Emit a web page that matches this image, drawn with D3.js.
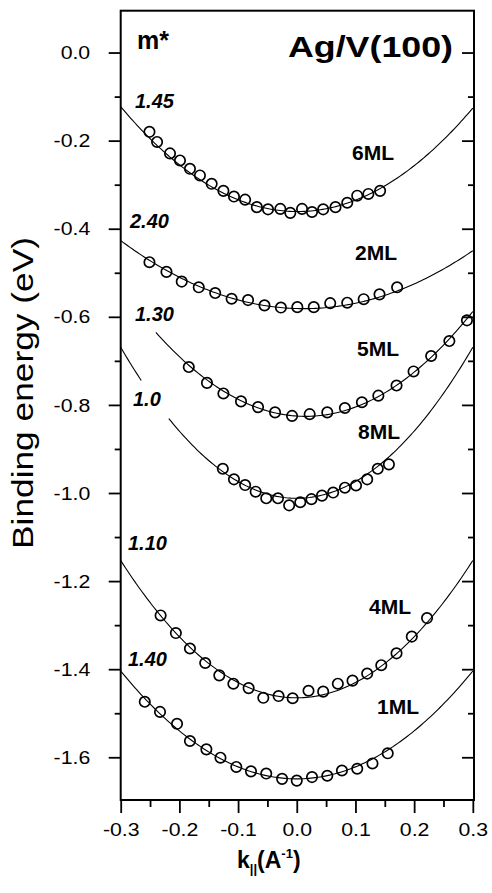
<!DOCTYPE html>
<html>
<head>
<meta charset="utf-8">
<script src="https://cdnjs.cloudflare.com/ajax/libs/d3/7.8.5/d3.min.js"></script>
<style>
  body { margin: 0; background: #fff; }
  svg text { font-family: "Liberation Sans", Arial, Helvetica, sans-serif; fill: #000; }
</style>
</head>
<body>
<svg id="chart"></svg>
<script>
// --- data ---
const layers = ["6ML", "2ML", "5ML", "8ML", "4ML", "1ML"];
const mStarText = ["1.45", "2.40", "1.30", "1.0", "1.10", "1.40"];
const mStar = [1.45, 2.40, 1.30, 1.0, 1.10, 1.40];
const bandBottom = [-0.361, -0.5815, -0.826, -1.012, -1.465, -1.649];
const bandCentre = [0.001, 0.012, 0.015, 0, 0, 0];
// k ranges where the fitted parabola is drawn (8ML is broken by its label)
const fitRanges = [
  [[-0.3, 0.3]],
  [[-0.3, 0.3]],
  [[-0.24, 0.3]],
  [[-0.3, -0.265], [-0.218, 0.3]],
  [[-0.3, 0.3]],
  [[-0.3, 0.3]]
];

const k6 = [-0.251, -0.238, -0.216, -0.199, -0.182, -0.165, -0.145, -0.125, -0.107, -0.088, -0.068, -0.049, -0.028, -0.011, 0.009, 0.026, 0.045, 0.066, 0.086, 0.103, 0.122, 0.142];
const e6 = [-0.180, -0.203, -0.229, -0.245, -0.264, -0.279, -0.298, -0.314, -0.327, -0.334, -0.351, -0.356, -0.355, -0.364, -0.355, -0.362, -0.356, -0.351, -0.341, -0.325, -0.321, -0.314];

const k2 = [-0.251, -0.222, -0.196, -0.167, -0.139, -0.111, -0.083, -0.055, -0.027, 0.001, 0.029, 0.057, 0.086, 0.114, 0.141, 0.171];
const e2 = [-0.476, -0.498, -0.520, -0.533, -0.546, -0.559, -0.562, -0.574, -0.579, -0.578, -0.578, -0.569, -0.568, -0.560, -0.549, -0.533];

const k5 = [-0.184, -0.153, -0.125, -0.095, -0.066, -0.037, -0.008, 0.022, 0.052, 0.082, 0.111, 0.139, 0.170, 0.199, 0.229, 0.260, 0.290];
const e5 = [-0.714, -0.750, -0.774, -0.792, -0.805, -0.817, -0.825, -0.821, -0.817, -0.807, -0.794, -0.779, -0.756, -0.724, -0.689, -0.655, -0.608];

const k8 = [-0.126, -0.107, -0.088, -0.070, -0.052, -0.032, -0.013, 0.006, 0.025, 0.043, 0.062, 0.082, 0.101, 0.120, 0.138, 0.157];
const e8 = [-0.945, -0.969, -0.982, -0.997, -1.012, -1.012, -1.028, -1.021, -1.014, -1.006, -0.999, -0.988, -0.983, -0.969, -0.945, -0.935];

const k4 = [-0.232, -0.206, -0.182, -0.156, -0.132, -0.108, -0.082, -0.057, -0.031, -0.007, 0.020, 0.045, 0.070, 0.095, 0.120, 0.144, 0.170, 0.196, 0.222];
const e4 = [-1.278, -1.318, -1.353, -1.386, -1.414, -1.433, -1.443, -1.465, -1.461, -1.466, -1.449, -1.451, -1.433, -1.426, -1.410, -1.391, -1.364, -1.326, -1.284];

const k1 = [-0.259, -0.233, -0.204, -0.182, -0.154, -0.130, -0.103, -0.078, -0.052, -0.025, 0.000, 0.026, 0.052, 0.077, 0.103, 0.129, 0.155];
const e1 = [-1.474, -1.497, -1.524, -1.563, -1.582, -1.601, -1.622, -1.632, -1.637, -1.649, -1.653, -1.645, -1.642, -1.630, -1.626, -1.614, -1.591];

const pointsK = [k6, k2, k5, k8, k4, k1];
const pointsE = [e6, e2, e5, e8, e4, e1];

const xTicks = [-0.3, -0.2, -0.1, 0.0, 0.1, 0.2, 0.3];
const yTicks = [0.0, -0.2, -0.4, -0.6, -0.8, -1.0, -1.2, -1.4, -1.6];

// label placement in pixels (left edge, baseline)
const mStarPos = [[135, 108], [130, 228], [135, 321], [133, 406], [128, 550], [128, 666]];
const layerPos = [[352, 160], [355, 260], [357, 356], [358, 439], [369, 614], [377, 714]];

// --- drawing ---
const W = 492, H = 893;
const svg = d3.select("#chart").attr("width", W).attr("height", H);

const x = d3.scaleLinear().domain([-0.3, 0.302]).range([120.7, 474]);
const y = d3.scaleLinear().domain([-1.697, 0.095]).range([800, 10.7]);
const HBAR2M = 3.81; // eV·Å², ħ²/2m_e

const stretch = 1.12;
const fmt = d => d.toFixed(1);

// fitted parabolas
const line = d3.line().x(d => x(d[0])).y(d => y(d[1]));
layers.forEach((name, i) => {
  fitRanges[i].forEach(([a, b]) => {
    const ks = d3.range(a, b + 1e-9, 0.004).concat([b]);
    const pts = ks.map(k => [k, bandBottom[i] + HBAR2M / mStar[i] * (k - bandCentre[i]) ** 2]);
    svg.append("path")
      .attr("d", line(pts))
      .attr("fill", "none")
      .attr("stroke", "#000")
      .attr("stroke-width", 1.1);
  });
});

// measured points
layers.forEach((name, i) => {
  svg.append("g")
    .selectAll("circle")
    .data(d3.zip(pointsK[i], pointsE[i]))
    .enter().append("circle")
    .attr("cx", d => x(d[0]))
    .attr("cy", d => y(d[1]))
    .attr("r", 5.2)
    .attr("fill", "none")
    .attr("stroke", "#000")
    .attr("stroke-width", 1.7);
});

// axes
const minorY = d3.range(-1.5, 0.05, 0.2).map(v => +v.toFixed(2));
const minorX = d3.range(-0.25, 0.3, 0.1).map(v => +v.toFixed(2));

const left = svg.append("g").attr("transform", `translate(${x(-0.3)},0)`);
left.call(d3.axisLeft(y).tickValues(yTicks).tickSize(12).tickPadding(18).tickFormat(fmt));
left.append("g").call(d3.axisLeft(y).tickValues(minorY).tickSize(6).tickFormat(""));

const right = svg.append("g").attr("transform", `translate(${x(0.302)},0)`);
right.call(d3.axisLeft(y).tickValues(yTicks).tickSize(0).tickFormat(""));
right.selectAll(".tick line").attr("x2", -12);
right.append("g").call(d3.axisLeft(y).tickValues(minorY).tickSize(0).tickFormat(""))
  .selectAll(".tick line").attr("x2", -6);

const bottom = svg.append("g").attr("transform", `translate(0,${y(-1.697)})`);
bottom.call(d3.axisBottom(x).tickValues(xTicks).tickSize(13).tickFormat(fmt));
bottom.append("g").call(d3.axisBottom(x).tickValues(minorX).tickSize(7).tickFormat(""));

svg.selectAll(".domain").remove();
svg.selectAll(".tick line").attr("stroke", "#000").attr("stroke-width", 1.8);

// frame
svg.append("rect")
  .attr("x", x(-0.3)).attr("y", y(0.095))
  .attr("width", x(0.302) - x(-0.3)).attr("height", y(-1.697) - y(0.095))
  .attr("fill", "none").attr("stroke", "#000").attr("stroke-width", 2);

left.selectAll(".tick text")
  .attr("font-size", 19)
  .attr("x", -30.5 / stretch)
  .attr("transform", `scale(${stretch},1)`)
  .attr("font-family", null);
bottom.selectAll(".tick text")
  .attr("font-size", 19)
  .attr("y", 36.5).attr("dy", 0)
  .attr("transform", `scale(${stretch},1)`)
  .attr("font-family", null);

// axis titles
svg.append("text")
  .attr("transform", "translate(33,393) rotate(-90)")
  .attr("text-anchor", "middle")
  .attr("font-size", 29)
  .attr("textLength", 312).attr("lengthAdjust", "spacingAndGlyphs")
  .text("Binding energy (eV)");

const xt = svg.append("text")
  .attr("x", 237).attr("y", 868)
  .attr("font-size", 23).attr("font-weight", "bold");
xt.append("tspan").text("k");
xt.append("tspan").attr("font-size", 13).attr("dy", 5).text("||");
xt.append("tspan").attr("dy", -5).text("(A");
xt.append("tspan").attr("font-size", 13).attr("dy", -10).text("-1");
xt.append("tspan").attr("dy", 10).text(")");

// panel labels
svg.append("text")
  .attr("x", 137).attr("y", 49)
  .attr("font-size", 25).attr("font-weight", "bold")
  .text("m*");

svg.append("text")
  .attr("x", 288).attr("y", 57)
  .attr("font-size", 30).attr("font-weight", "bold")
  .attr("textLength", 165).attr("lengthAdjust", "spacingAndGlyphs")
  .text("Ag/V(100)");

svg.append("g").selectAll("text")
  .data(mStarText)
  .enter().append("text")
  .attr("x", (d, i) => mStarPos[i][0])
  .attr("y", (d, i) => mStarPos[i][1])
  .attr("font-size", 20)
  .attr("font-weight", "bold")
  .attr("font-style", "italic")
  .text(d => d);

svg.append("g").selectAll("text")
  .data(layers)
  .enter().append("text")
  .attr("x", (d, i) => layerPos[i][0])
  .attr("y", (d, i) => layerPos[i][1])
  .attr("font-size", 21)
  .attr("font-weight", "bold")
  .text(d => d);
</script>
</body>
</html>
